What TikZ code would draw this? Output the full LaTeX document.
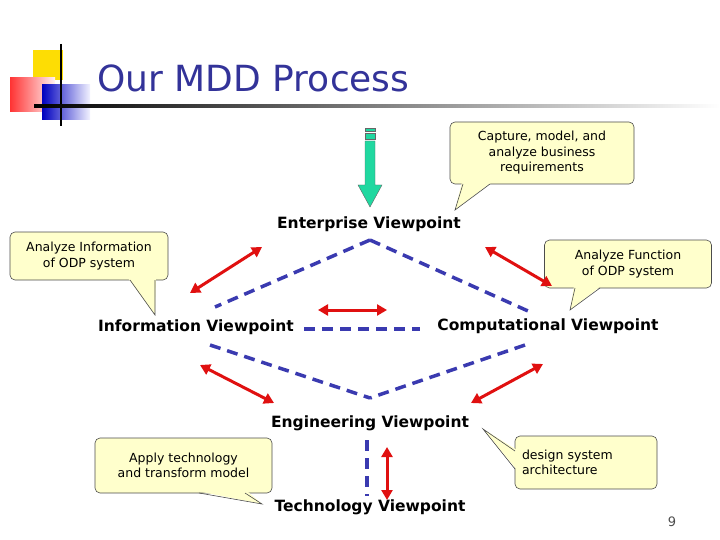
\documentclass[tikz,border=0pt]{standalone}
\usepackage{fontspec}
\setmainfont{DejaVu Sans}
\usepackage{xcolor}
\usetikzlibrary{arrows.meta}
\definecolor{titleblue}{HTML}{333399}
\definecolor{dashblue}{HTML}{3A3AB0}
\definecolor{callfill}{HTML}{FFFFCC}
\definecolor{arrowred}{HTML}{E01010}
\definecolor{arrowgreen}{HTML}{20D8A0}
\tikzset{
  view/.style={font=\fontsize{15.5}{18}\selectfont\bfseries, inner sep=1pt},
  callout/.style={draw=black!70, fill=callfill, rounded corners=5pt, line width=0.6pt,
    font=\fontsize{12.5}{15.5}\selectfont, align=center, inner sep=0pt},
  link/.style={draw=dashblue, line width=3.5pt, dash pattern=on 11pt off 7pt},
  swap/.style={draw=arrowred, line width=3pt, {Triangle[length=10pt,width=11pt]}-{Triangle[length=10pt,width=11pt]}},
}
\begin{document}
\begin{tikzpicture}[x=1pt, y=-1pt]
    \useasboundingbox (0,0) rectangle (720,540);

    % Logo
    \fill[yellow!80!orange] (33,50) rectangle (63,80);
    \shade[left color=red!80, right color=red!5] (10,78) rectangle (55,112);
    \shade[left color=blue!75!black, right color=blue!5] (42,85) rectangle (90,120);
    \draw[line width=1.8pt] (61,44) -- (61,126);
    \shade[left color=black, right color=white] (34,105) rectangle (720,107.5);
    \node[text=titleblue, font=\fontsize{36}{42}\selectfont, anchor=west] (title) at (94,78) {Our MDD Process};

    % Viewpoints
    \node[view] (ent) at (369,224) {Enterprise Viewpoint};
    \node[view] (inf) at (196,327) {Information Viewpoint};
    \node[view] (comp) at (548,326) {Computational Viewpoint};
    \node[view] (eng) at (370,423) {Engineering Viewpoint};
    \node[view] (tech) at (370,507) {Technology Viewpoint};

    % Green arrow
    \fill[arrowgreen, draw=black!60] (365,128) rectangle (375,131);
    \fill[arrowgreen, draw=black!60] (365,133) rectangle (375,139);
    \fill[arrowgreen, draw=black!60] (365,141) -- (375,141) -- (375,185) -- (382,185)
        -- (370,207) -- (358,185) -- (365,185) -- cycle;

    % Dashed links
    \coordinate (top) at (370,240);
    \coordinate (bot) at (370,398);
    \draw[link] (top) -- (215,307);
    \draw[link] (top) -- (528,311);
    \draw[link] (304,329) -- (420,329);
    \draw[link] (210,345) -- (bot);
    \draw[link] (525,345) -- (bot);
    \draw[link] (367,440) -- (367,496);

    % Callouts
    \node[callout, minimum width=184pt, minimum height=62pt] (capture) at (542,153)
        {Capture, model, and\\analyze business\\requirements};
    \fill[callfill] (462,182) -- (455,210) -- (492,182) -- cycle;
    \draw[black!70, line width=0.6pt] (463,184) -- (455,210) -- (490,184);

    \node[callout, minimum width=158pt, minimum height=48pt] (info) at (89,256)
        {Analyze Information\\of ODP system};
    \fill[callfill] (128,278) -- (155,315) -- (156,278) -- cycle;
    \draw[black!70, line width=0.6pt] (130,280) -- (155,315) -- (155,280);

    \node[callout, minimum width=167pt, minimum height=48pt] (func) at (628,264)
        {Analyze Function\\of ODP system};
    \fill[callfill] (574,286) -- (570,310) -- (601,286) -- cycle;
    \draw[black!70, line width=0.6pt] (575,288) -- (570,310) -- (600,288);

    \node[callout, minimum width=177pt, minimum height=55pt] (apply) at (183.5,465.5)
        {Apply technology\\and transform model};
    \fill[callfill] (197,491) -- (262,504) -- (247,491) -- cycle;
    \draw[black!70, line width=0.6pt] (199,493) -- (262,504) -- (245,493);

    \node[callout, minimum width=142pt, minimum height=53pt, align=left, text width=128pt] (design) at (586,462.5)
        {design system\\architecture};
    \fill[callfill] (517,450) -- (483,429) -- (517,470) -- cycle;
    \draw[black!70, line width=0.6pt] (515,451) -- (483,429) -- (515,469);

    % Red arrows
    \draw[swap] (190,293) -- (262,247);
    \draw[swap] (485,247) -- (552,286);
    \draw[swap] (318,310) -- (387,310);
    \draw[swap] (200,365) -- (274,403);
    \draw[swap] (471,403) -- (543,364);
    \draw[swap] (387,447) -- (387,500);

    \node[text=black!70, font=\fontsize{13}{15}\selectfont] (page) at (672,522) {9};
\end{tikzpicture}
\end{document}
